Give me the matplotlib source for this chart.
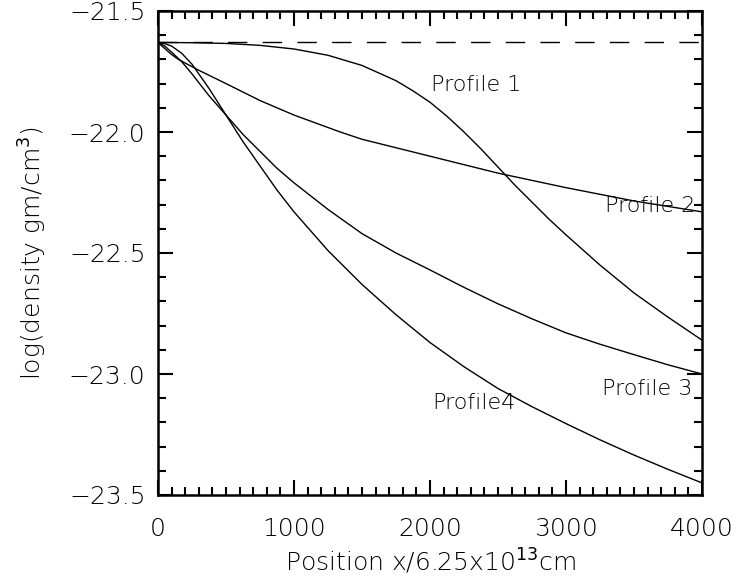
import numpy as np
import matplotlib
matplotlib.use("Agg")
import matplotlib.pyplot as plt
from matplotlib.ticker import MultipleLocator

# Density profiles: log10(rho) versus position (units of 6.25e13 cm)
x_flat = [0, 4000]
y_flat = [-21.63, -21.63]

x_p1 = [0, 250, 500, 750, 1000, 1250, 1500, 1750, 1875, 2000, 2125, 2250, 2375,
        2500, 2625, 2750, 2875, 3000, 3250, 3500, 3750, 4000]
y_p1 = [-21.630, -21.631, -21.634, -21.642, -21.657, -21.683, -21.725, -21.788,
        -21.830, -21.877, -21.935, -22.000, -22.070, -22.145, -22.220, -22.290,
        -22.360, -22.425, -22.550, -22.665, -22.765, -22.860]

x_p2 = [0, 50, 100, 150, 200, 300, 500, 750, 1000, 1340, 1500, 2000, 2500, 3000,
        3500, 4000]
y_p2 = [-21.63, -21.655, -21.68, -21.70, -21.715, -21.745, -21.80, -21.87, -21.93,
        -22.00, -22.03, -22.10, -22.17, -22.23, -22.285, -22.33]

x_p3 = [0, 50, 100, 175, 250, 375, 500, 625, 750, 875, 1000, 1250, 1500, 1750,
        2000, 2250, 2500, 2750, 3000, 3250, 3500, 3750, 4000]
y_p3 = [-21.63, -21.645, -21.67, -21.71, -21.76, -21.85, -21.93, -22.01, -22.08,
        -22.15, -22.21, -22.32, -22.42, -22.50, -22.57, -22.642, -22.71, -22.772,
        -22.83, -22.877, -22.92, -22.962, -23.00]

x_p4 = [0, 50, 100, 175, 250, 375, 500, 625, 750, 875, 1000, 1250, 1500, 1750,
        2000, 2250, 2500, 2750, 3000, 3250, 3500, 3750, 4000]
y_p4 = [-21.63, -21.635, -21.645, -21.675, -21.72, -21.82, -21.93, -22.04, -22.14,
        -22.24, -22.33, -22.49, -22.63, -22.755, -22.87, -22.97, -23.06, -23.135,
        -23.205, -23.272, -23.335, -23.394, -23.45]

labels = ["Profile 1", "Profile 2", "Profile 3", "Profile4"]
label_x = [2010, 3285, 3265, 2015]
label_y = [-21.805, -22.305, -23.063, -23.12]

xticks = [0, 1000, 2000, 3000, 4000]
yticks = [-23.5, -23.0, -22.5, -22.0, -21.5]

plt.rcParams['font.family'] = ['DejaVu Sans']
ink = 'black'
fig = plt.figure(figsize=(7.38, 5.80), dpi=100)
ax = fig.add_axes([158 / 738, (580 - 495) / 580, 544 / 738, 484 / 580])

ax.plot(x_flat, y_flat, color='black', lw=1.0, dashes=(14, 11))
for xs, ys in [(x_p1, y_p1), (x_p2, y_p2), (x_p3, y_p3), (x_p4, y_p4)]:
    ax.plot(xs, ys, color='black', lw=1.0)

for t, tx, ty in zip(labels, label_x, label_y):
    ax.text(tx, ty, t, fontsize=16, color=ink, ha='left', va='center',
            fontweight='light')

ax.set_xlim(0, 4000)
ax.set_ylim(-23.5, -21.5)
ax.set_xticks(xticks)
ax.set_xticklabels([str(v) for v in xticks])
ax.set_yticks(yticks)
ax.set_yticklabels([f"\u2212{abs(v):.1f}" for v in yticks])
ax.xaxis.set_minor_locator(MultipleLocator(100))
ax.yaxis.set_minor_locator(MultipleLocator(0.1))

ax.tick_params(which='both', direction='in', top=True, right=True, colors='black',
               labelcolor=ink, labelsize=18)
ax.tick_params(which='major', length=11, width=1.5)
ax.tick_params(which='minor', length=6, width=1.5)
ax.tick_params(axis='x', which='major', pad=16)
ax.tick_params(axis='y', which='major', pad=9)
for lab in ax.get_xticklabels() + ax.get_yticklabels():
    lab.set_fontweight('light')
for s in ax.spines.values():
    s.set_linewidth(1.8)

ax.set_xlabel("Position x/6.25x10$^{13}$cm", fontsize=18, color=ink, labelpad=4,
              fontweight='light')
ax.set_ylabel("log(density gm/cm$^{3}$)", fontsize=18, color=ink, labelpad=14,
              fontweight='light')

fig.savefig("out.png", dpi=100)
